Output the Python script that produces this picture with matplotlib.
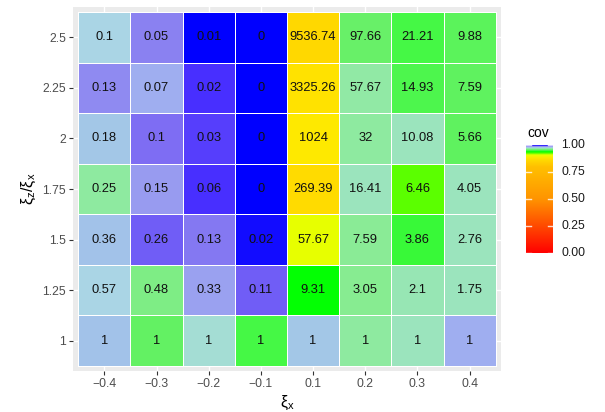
import numpy as np
import matplotlib
matplotlib.use("Agg")
import matplotlib.pyplot as plt
from matplotlib.colors import LinearSegmentedColormap, Normalize

plt.rcParams['font.family'] = ['Liberation Sans', 'DejaVu Sans']
plt.rcParams['mathtext.fontset'] = 'custom'
plt.rcParams['mathtext.rm'] = 'Liberation Sans'
plt.rcParams['mathtext.it'] = 'Liberation Sans'
plt.rcParams['mathtext.default'] = 'regular'

# ---- data ----
x_labels = ["\u22120.4", "\u22120.3", "\u22120.2", "\u22120.1", "0.1", "0.2", "0.3", "0.4"]
y_labels = ["1", "1.25", "1.5", "1.75", "2", "2.25", "2.5"]

# displayed values, rows from y=1 (bottom) to y=2.5 (top)
val_1    = ["1", "1", "1", "1", "1", "1", "1", "1"]
val_125  = ["0.57", "0.48", "0.33", "0.11", "9.31", "3.05", "2.1", "1.75"]
val_15   = ["0.36", "0.26", "0.13", "0.02", "57.67", "7.59", "3.86", "2.76"]
val_175  = ["0.25", "0.15", "0.06", "0", "269.39", "16.41", "6.46", "4.05"]
val_2    = ["0.18", "0.1", "0.03", "0", "1024", "32", "10.08", "5.66"]
val_225  = ["0.13", "0.07", "0.02", "0", "3325.26", "57.67", "14.93", "7.59"]
val_25   = ["0.1", "0.05", "0.01", "0", "9536.74", "97.66", "21.21", "9.88"]

# coverage (fill), estimated from colours
cov_1    = [0.980, 0.957, 0.974, 0.950, 0.979, 0.967, 0.972, 0.984]
cov_125  = [0.976, 0.962, 0.986, 0.993, 0.940, 0.964, 0.971, 0.972]
cov_15   = [0.980, 0.993, 0.991, 0.999, 0.910, 0.965, 0.948, 0.972]
cov_175  = [0.967, 0.987, 0.996, 1.000, 0.865, 0.972, 0.925, 0.972]
cov_2    = [0.979, 0.992, 0.995, 1.000, 0.885, 0.967, 0.972, 0.956]
cov_225  = [0.989, 0.984, 0.996, 1.000, 0.875, 0.968, 0.952, 0.956]
cov_25   = [0.976, 0.990, 1.000, 1.000, 0.860, 0.958, 0.950, 0.955]

vals = [val_1, val_125, val_15, val_175, val_2, val_225, val_25]
covs = np.array([cov_1, cov_125, cov_15, cov_175, cov_2, cov_225, cov_25])

# ---- colormap ----
nodes = [
    (0.000, '#FF0000'),
    (0.500, '#FF9400'),
    (0.800, '#FFC000'),
    (0.860, '#FFD800'),
    (0.885, '#FFE800'),
    (0.910, '#E8FF00'),
    (0.925, '#60FF00'),
    (0.940, '#00FF00'),
    (0.950, '#44F844'),
    (0.958, '#68F068'),
    (0.965, '#88EC92'),
    (0.972, '#98E6B6'),
    (0.976, '#ABD8E4'),
    (0.980, '#A2C4E8'),
    (0.984, '#A0B0F0'),
    (0.988, '#9696F0'),
    (0.992, '#8070F2'),
    (0.996, '#4A30FF'),
    (1.000, '#0000FF'),
]
cmap = LinearSegmentedColormap.from_list('cov', nodes, N=1024)
norm = Normalize(0, 1)

fig = plt.figure(figsize=(6.05, 4.12), dpi=100)
ax = fig.add_axes([73/605, 1 - 371/412, 428/605, 364/412])
ax.set_facecolor('#EBEBEB')

nx, ny = len(x_labels), len(y_labels)
xe = np.arange(nx + 1) + 0.5
ye = np.arange(ny + 1) + 0.5

# grid lines
for i in range(1, nx + 1):
    ax.axvline(i, color='white', lw=1.0, zorder=0)
for j in range(1, ny + 1):
    ax.axhline(j, color='white', lw=1.0, zorder=0)

ax.pcolormesh(xe, ye, covs, cmap=cmap, norm=norm, edgecolors='white',
              linewidth=0.6, zorder=1)

for j in range(ny):
    for i in range(nx):
        ax.text(i + 1, j + 1, vals[j][i], ha='center', va='center',
                fontsize=9.3, color='#111111', zorder=3)

ax.set_xlim(0.4, nx + 0.6)
ax.set_ylim(0.4, ny + 0.6)
ax.set_xticks(np.arange(1, nx + 1))
ax.set_xticklabels(x_labels)
ax.set_yticks(np.arange(1, ny + 1))
ax.set_yticklabels(y_labels)
ax.tick_params(axis='both', length=3, width=0.8, color='#333333',
               labelsize=8.8, labelcolor='#4D4D4D', pad=2)
for s in ax.spines.values():
    s.set_visible(False)

ax.set_xlabel(r'$\xi_x$', fontsize=11.5, labelpad=3)
ax.set_ylabel(r'$\xi_z/\xi_x$', fontsize=11.5, labelpad=3)

# ---- colorbar ----
cax = fig.add_axes([526/605, 1 - 253/412, 27/605, 108/412])
grad = np.linspace(0, 1, 400).reshape(-1, 1)
cax.imshow(grad, aspect='auto', cmap=cmap, norm=norm, origin='lower',
           extent=[0, 1, 0, 1])
cax.set_xlim(0, 1)
cax.set_ylim(0, 1)
for t in [0, 0.25, 0.5, 0.75, 1.0]:
    cax.plot([0, 0.2], [t, t], color='white', lw=1, alpha=0.8)
    cax.plot([0.8, 1], [t, t], color='white', lw=1, alpha=0.8)
    cax.text(1.3, t, f"{t:.2f}", transform=cax.transAxes, ha='left',
             va='center', fontsize=8.8, color='#1A1A1A')
cax.set_xticks([])
cax.set_yticks([])
for s in cax.spines.values():
    s.set_visible(False)
fig.text(527/605, 1 - 133/412, 'cov', fontsize=10, ha='left', va='center')

fig.savefig('out.png', dpi=100)
